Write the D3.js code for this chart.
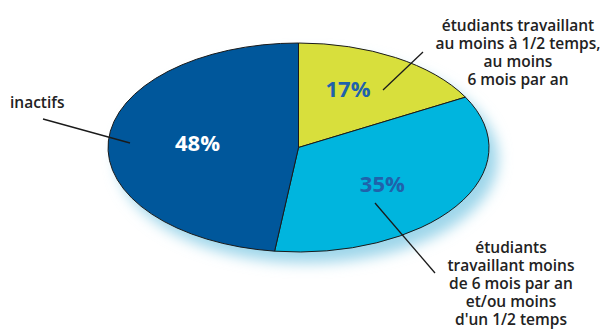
<!DOCTYPE html>
<html>
<head>
<meta charset="utf-8">
<script src="https://cdn.jsdelivr.net/npm/d3@7"></script>
<style>
  body { margin: 0; background: #fff; }
  svg { display: block; font-family: "Open Sans", sans-serif; }
</style>
</head>
<body>
<svg id="svg" width="605" height="329"></svg>
<script>
// data
var categories = ["étudiants travaillant au moins à 1/2 temps, au moins 6 mois par an",
                  "étudiants travaillant moins de 6 mois par an et/ou moins d'un 1/2 temps",
                  "inactifs"];
var values = [17, 35, 48];
var colors = ["#d8df3c", "#00b5de", "#00579b"];
var pctColors = ["#1f62ab", "#1f62ab", "#ffffff"];

var svg = d3.select("#svg");
var cx = 298.5, cy = 147.5, rx = 190.5, ry = 104.5;
var R = 100;

var defs = svg.append("defs");
defs.append("filter").attr("id", "glow")
  .attr("x", "-20%").attr("y", "-20%").attr("width", "140%").attr("height", "140%")
  .append("feGaussianBlur").attr("stdDeviation", 7);

// light blue glow under the pie
svg.append("ellipse")
  .attr("cx", cx + 9).attr("cy", cy + 11)
  .attr("rx", rx).attr("ry", ry)
  .attr("fill", "#9ed6ea")
  .attr("filter", "url(#glow)");

var pie = d3.pie().sort(null).value(function(d){ return d; });
var arc = d3.arc().innerRadius(0).outerRadius(R);
var arcs = pie(values);

var g = svg.append("g")
  .attr("transform", "translate(" + cx + "," + cy + ") scale(" + (rx / R) + "," + (ry / R) + ")");

g.selectAll("path")
  .data(arcs)
  .enter()
  .append("path")
  .attr("d", arc)
  .attr("fill", function(d, i){ return colors[i]; })
  .attr("stroke", "#1a1a1a")
  .attr("stroke-width", 1)
  .attr("vector-effect", "non-scaling-stroke");

// percentage labels (offset from centre as fraction of rx, ry)
var pctPos = [[0.26, -0.56], [0.44, 0.35], [-0.53, -0.04]];
svg.selectAll("text.pct")
  .data(arcs)
  .enter()
  .append("text")
  .attr("class", "pct")
  .attr("x", function(d, i){ return cx + pctPos[i][0] * rx; })
  .attr("y", function(d, i){ return cy + pctPos[i][1] * ry; })
  .attr("dy", "0.36em")
  .attr("text-anchor", "middle")
  .attr("font-size", 22)
  .attr("font-weight", 700)
  .attr("fill", function(d, i){ return pctColors[i]; })
  .text(function(d){ return d.data + "%"; });

// leader lines
var leaders = [[423, 52, 383, 90], [375, 203, 435, 273], [43, 119, 130, 143]];
svg.selectAll("line.leader")
  .data(leaders)
  .enter()
  .append("line")
  .attr("x1", function(d){ return d[0]; })
  .attr("y1", function(d){ return d[1]; })
  .attr("x2", function(d){ return d[2]; })
  .attr("y2", function(d){ return d[3]; })
  .attr("stroke", "#1a1a1a")
  .attr("stroke-width", 1.3);

// category labels
var labelLines = [
  ["étudiants travaillant", "au moins à 1/2 temps,", "au moins", "6 mois par an"],
  ["étudiants", "travaillant moins", "de 6 mois par an", "et/ou moins", "d'un 1/2 temps"],
  ["inactifs"]
];
var labelAnchor = [[518, 31, "middle"], [511, 253, "middle"], [10, 108, "start"]];

labelLines.forEach(function(lines, i){
  var t = svg.append("text")
    .attr("x", labelAnchor[i][0])
    .attr("y", labelAnchor[i][1])
    .attr("text-anchor", labelAnchor[i][2])
    .attr("font-size", 15.5)
    .attr("font-weight", 600)
    .attr("fill", "#222");
  lines.forEach(function(s, j){
    t.append("tspan")
      .attr("x", labelAnchor[i][0])
      .attr("dy", j === 0 ? 0 : 18)
      .text(s);
  });
});
</script>
</body>
</html>
